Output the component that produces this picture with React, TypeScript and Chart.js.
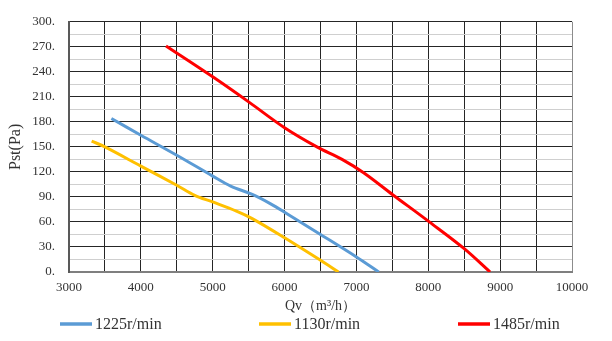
import React, { useEffect, useRef } from "react";
import { Chart, registerables } from "chart.js";

Chart.register(...registerables);

// Series: airflow Qv (m³/h) and static pressure Pst (Pa)
const q1225 = [3590, 4000, 4500, 5000, 5250, 5550, 5800, 6050, 6500, 7000, 7310];
const p1225 = [184, 164, 140, 115, 103, 93, 82, 69, 45, 18, 0];

const q1130 = [3315, 3500, 4000, 4500, 4750, 5000, 5330, 5550, 6000, 6500, 6750];
const p1130 = [157, 150, 127, 104, 92, 84, 73, 64, 41, 14, 0];

const q1485 = [4350, 5000, 5500, 6000, 6450, 6800, 7100, 7500, 8000, 8500, 8860];
const p1485 = [271, 234, 204, 173, 150, 135, 119, 93, 61, 28, 0];

const seriesLabels = ["1225r/min", "1130r/min", "1485r/min"];
const seriesColors = ["#5B9BD5", "#FFC000", "#FF0000"];

const xMin = 3000;
const xMax = 10000;
const xStep = 500;
const xLabelStep = 1000;
const yMin = 0;
const yMax = 300;
const yStep = 15;
const yLabelStep = 30;

const xTitle = "Qv（m³/h）";
const yTitle = "Pst(Pa)";

const FONT = "'Liberation Serif', 'Times New Roman', serif";
const TEXT = "#333333";

function toPoints(xs: number[], ys: number[]) {
  return xs.map((x, i) => ({ x, y: ys[i] }));
}

const bottomLegend = {
  id: "bottomLegend",
  afterDraw(chart: any) {
    const ctx = chart.ctx as CanvasRenderingContext2D;
    const area = chart.chartArea;
    const y = 324;
    const step = 199;
    const startX = area.left - 9;
    ctx.save();
    ctx.font = `16px ${FONT}`;
    ctx.textBaseline = "middle";
    ctx.textAlign = "left";
    chart.data.datasets.forEach((ds: any, i: number) => {
      const x0 = startX + i * step;
      ctx.strokeStyle = ds.borderColor;
      ctx.lineWidth = 3.5;
      ctx.beginPath();
      ctx.moveTo(x0, y);
      ctx.lineTo(x0 + 32, y);
      ctx.stroke();
      ctx.fillStyle = TEXT;
      ctx.fillText(ds.label, x0 + 35, y + 1);
    });
    ctx.restore();
  },
};

export default function App() {
  const ref = useRef<HTMLCanvasElement | null>(null);

  useEffect(() => {
    document.body.style.margin = "0";
    if (!ref.current) return;
    const datasets = [
      toPoints(q1225, p1225),
      toPoints(q1130, p1130),
      toPoints(q1485, p1485),
    ].map((data, i) => ({
      label: seriesLabels[i],
      data,
      borderColor: seriesColors[i],
      backgroundColor: seriesColors[i],
      borderWidth: 3,
      pointRadius: 0,
      tension: 0.35,
      fill: false,
    }));

    const chart = new Chart(ref.current, {
      type: "line",
      data: { datasets },
      options: {
        animation: false,
        responsive: false,
        devicePixelRatio: 1,
        layout: { padding: { top: 15, right: 40, bottom: 26, left: 0 } },
        plugins: {
          legend: { display: false },
          tooltip: { enabled: false },
        },
        scales: {
          x: {
            type: "linear",
            min: xMin,
            max: xMax,
            afterFit: (s: any) => {
              s.height = 43;
            },
            ticks: {
              stepSize: xStep,
              autoSkip: false,
              maxRotation: 0,
              padding: 8,
              color: TEXT,
              font: { family: FONT, size: 13 },
              callback: (v: any) => (Number(v) % xLabelStep === 0 ? String(v) : ""),
            },
            grid: {
              drawTicks: false,
              color: (c: any) => (c.tick && c.tick.value === xMax ? "#8c8c8c" : "#262626"),
              lineWidth: 1,
            },
            border: { display: true, color: "#7f7f7f", width: 2 },
            title: {
              display: true,
              text: xTitle,
              color: TEXT,
              font: { family: FONT, size: 14 },
              padding: { top: 0, bottom: 0 },
            },
          },
          y: {
            type: "linear",
            min: yMin,
            max: yMax,
            afterFit: (s: any) => {
              s.width = 69;
            },
            ticks: {
              stepSize: yStep,
              autoSkip: false,
              padding: 14,
              color: TEXT,
              font: { family: FONT, size: 13 },
              callback: (v: any) => (Number(v) % yLabelStep === 0 ? `${v}.` : ""),
            },
            grid: {
              drawTicks: false,
              color: (c: any) =>
                c.tick && c.tick.value % yLabelStep === 0 ? "#262626" : "#cfcfcf",
              lineWidth: 1,
            },
            border: { display: true, color: "#595959", width: 2 },
            title: {
              display: true,
              text: yTitle,
              color: TEXT,
              font: { family: FONT, size: 16 },
              padding: { top: 6, bottom: 0 },
            },
          },
        },
      },
      plugins: [bottomLegend],
    });

    return () => chart.destroy();
  }, []);

  return (
    <div style={{ width: 612, height: 341, background: "#fff" }}>
      <canvas ref={ref} width={612} height={341} />
    </div>
  );
}
